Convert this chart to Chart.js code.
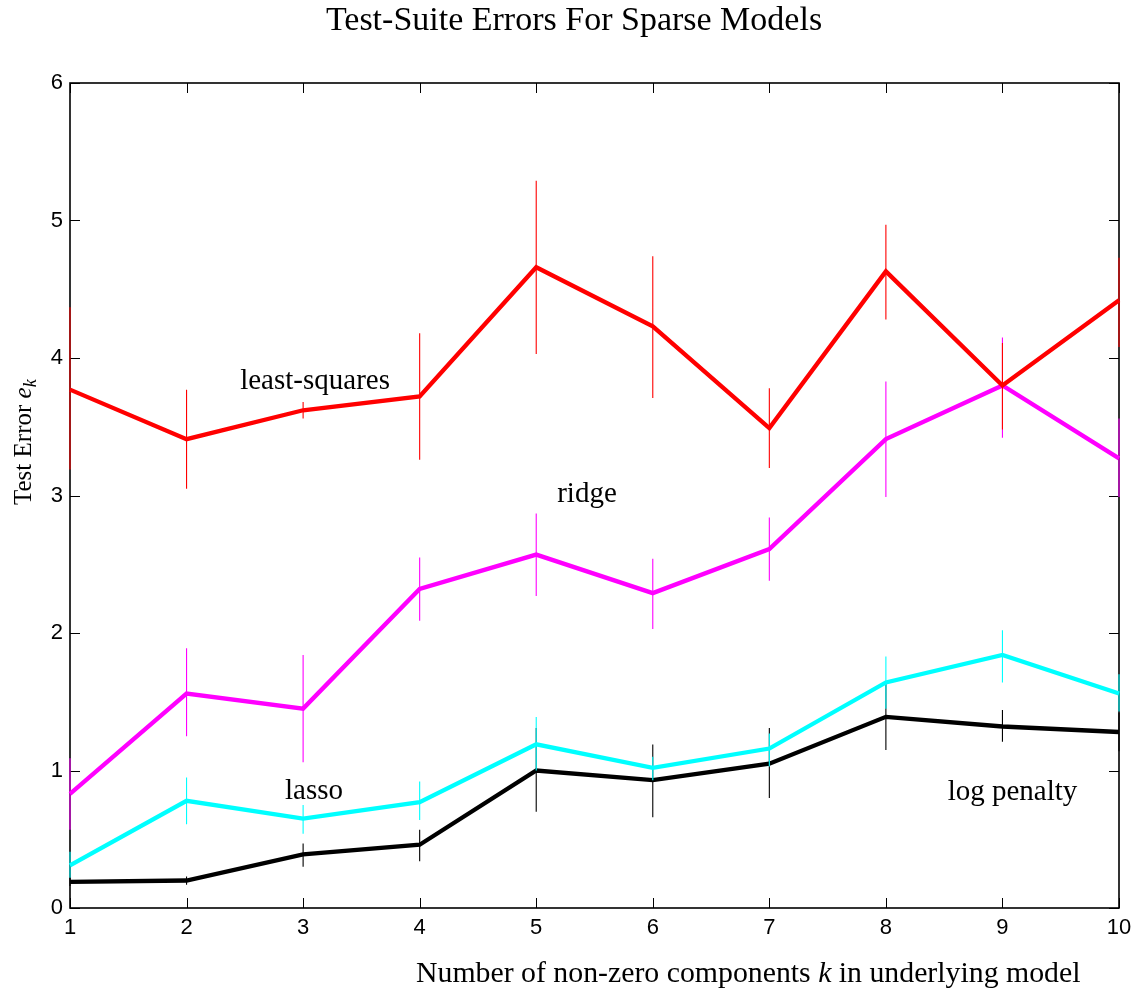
<!DOCTYPE html>
<html>
<head>
<meta charset="utf-8">
<title>Test-Suite Errors For Sparse Models</title>
<script src="https://cdn.jsdelivr.net/npm/chart.js@4.4.1/dist/chart.umd.min.js"></script>
<style>
  html, body { margin: 0; padding: 0; background: #fff; }
  #wrap { width: 1143px; height: 994px; }
</style>
</head>
<body>
<div id="wrap"><canvas id="chart" width="1143" height="994"></canvas></div>
<script>
// Number of non-zero components k
const ks = [1, 2, 3, 4, 5, 6, 7, 8, 9, 10];

// least-squares: mean test error and error-bar ends
const lsMean = [3.77, 3.41, 3.62, 3.72, 4.66, 4.23, 3.49, 4.63, 3.80, 4.42];
const lsLow  = [3.19, 3.05, 3.56, 3.26, 4.03, 3.71, 3.20, 4.28, 3.48, 4.08];
const lsHigh = [4.37, 3.77, 3.68, 4.18, 5.29, 4.74, 3.78, 4.97, 4.11, 4.73];

// ridge
const ridgeMean = [0.83, 1.56, 1.45, 2.32, 2.57, 2.29, 2.61, 3.41, 3.80, 3.27];
const ridgeLow  = [0.57, 1.25, 1.06, 2.09, 2.27, 2.03, 2.38, 2.99, 3.42, 2.99];
const ridgeHigh = [1.09, 1.89, 1.84, 2.55, 2.87, 2.54, 2.84, 3.83, 4.15, 3.56];

// lasso
const lassoMean = [0.31, 0.78, 0.65, 0.77, 1.19, 1.02, 1.16, 1.64, 1.84, 1.56];
const lassoLow  = [0.22, 0.61, 0.54, 0.64, 1.00, 0.93, 1.03, 1.45, 1.64, 1.43];
const lassoHigh = [0.41, 0.95, 0.75, 0.92, 1.39, 1.10, 1.27, 1.83, 2.02, 1.70];

// log penalty
const logMean = [0.19, 0.20, 0.39, 0.46, 1.00, 0.93, 1.05, 1.39, 1.32, 1.28];
const logLow  = [0.16, 0.17, 0.30, 0.34, 0.70, 0.66, 0.80, 1.15, 1.21, 1.14];
const logHigh = [0.22, 0.23, 0.47, 0.57, 1.31, 1.19, 1.31, 1.63, 1.44, 1.42];

// axis ticks
const xTicks = [1, 2, 3, 4, 5, 6, 7, 8, 9, 10];
const yTicks = [0, 1, 2, 3, 4, 5, 6];

// in-plot series names, anchored in data coordinates (left edge, baseline)
const seriesNames = ['least-squares', 'ridge', 'lasso', 'log penalty'];
const nameX = [2.46, 5.18, 2.845, 8.53];
const nameY = [3.775, 2.953, 0.793, 0.785];

const SERIF = '"Liberation Serif", "Times New Roman", serif';
const SANS = '"Liberation Sans", Arial, Helvetica, sans-serif';

function pts(ys) { return ks.map((k, i) => ({ x: k, y: ys[i] })); }

const series = [
  { label: 'least-squares', mean: lsMean,    low: lsLow,    high: lsHigh,    color: '#ff0000', order: 0 },
  { label: 'ridge',         mean: ridgeMean, low: ridgeLow, high: ridgeHigh, color: '#ff00ff', order: 1 },
  { label: 'lasso',         mean: lassoMean, low: lassoLow, high: lassoHigh, color: '#00ffff', order: 2 },
  { label: 'log penalty',   mean: logMean,   low: logLow,   high: logHigh,   color: '#000000', order: 3 }
];

// Boxed axes with inward ticks on all four sides
const framePlugin = {
  id: 'frame',
  beforeDatasetsDraw(chart) {
    const { ctx, chartArea: a, scales: { x, y } } = chart;
    ctx.save();
    ctx.strokeStyle = '#000';
    ctx.lineWidth = 1;
    const tl = 10;
    ctx.beginPath();
    xTicks.forEach(v => {
      const px = Math.round(x.getPixelForValue(v)) + 0.5;
      ctx.moveTo(px, a.bottom); ctx.lineTo(px, a.bottom - tl);
      ctx.moveTo(px, a.top);    ctx.lineTo(px, a.top + tl);
    });
    yTicks.forEach(v => {
      const py = Math.round(y.getPixelForValue(v)) + 0.5;
      ctx.moveTo(a.left, py);  ctx.lineTo(a.left + tl, py);
      ctx.moveTo(a.right, py); ctx.lineTo(a.right - tl, py);
    });
    ctx.stroke();
    ctx.lineWidth = 1.6;
    ctx.strokeRect(a.left, a.top, a.right - a.left, a.bottom - a.top);
    ctx.restore();
  }
};

// Vertical error bars drawn with each series
const errorBarPlugin = {
  id: 'errorBars',
  afterDatasetDraw(chart, args) {
    const s = series[args.index];
    const { ctx, scales: { x, y } } = chart;
    ctx.save();
    ctx.strokeStyle = s.color;
    ctx.lineWidth = 1.1;
    ctx.beginPath();
    ks.forEach((k, i) => {
      const px = x.getPixelForValue(k);
      ctx.moveTo(px, y.getPixelForValue(s.low[i]));
      ctx.lineTo(px, y.getPixelForValue(s.high[i]));
    });
    ctx.stroke();
    ctx.restore();
  }
};

function drawRuns(ctx, runs, x0, y0) {
  let x = x0;
  runs.forEach(r => {
    ctx.font = r.font;
    ctx.fillText(r.text, x, y0 + (r.dy || 0));
    x += ctx.measureText(r.text).width;
  });
}

// Title, axis titles and series names
const textPlugin = {
  id: 'texts',
  afterDraw(chart) {
    const { ctx, scales: { x, y } } = chart;
    ctx.save();
    ctx.fillStyle = '#000';
    ctx.textBaseline = 'alphabetic';

    ctx.textAlign = 'center';
    ctx.font = '34px ' + SERIF;
    ctx.fillText('Test-Suite Errors For Sparse Models', 574, 30);

    ctx.textAlign = 'left';
    drawRuns(ctx, [
      { text: 'Number of non-zero components ', font: '29.8px ' + SERIF },
      { text: 'k', font: 'italic 29.8px ' + SERIF },
      { text: ' in underlying model', font: '29.8px ' + SERIF }
    ], 416, 982);

    ctx.save();
    ctx.translate(31, 505);
    ctx.rotate(-Math.PI / 2);
    drawRuns(ctx, [
      { text: 'Test Error ', font: '25px ' + SERIF },
      { text: 'e', font: 'italic 25px ' + SERIF },
      { text: 'k', font: 'italic 18px ' + SERIF, dy: 5 }
    ], 0, 0);
    ctx.restore();

    ctx.font = '29px ' + SERIF;
    seriesNames.forEach((name, i) => {
      ctx.fillText(name, x.getPixelForValue(nameX[i]), y.getPixelForValue(nameY[i]));
    });
    ctx.restore();
  }
};

new Chart(document.getElementById('chart'), {
  type: 'line',
  data: {
    datasets: series.map(s => ({
      label: s.label,
      data: pts(s.mean),
      borderColor: s.color,
      backgroundColor: s.color,
      borderWidth: 4.3,
      pointRadius: 0,
      tension: 0,
      fill: false,
      clip: false,
      order: s.order
    }))
  },
  options: {
    responsive: false,
    devicePixelRatio: 1,
    animation: false,
    layout: { padding: { top: 83, right: 24, left: 0, bottom: 0 } },
    plugins: {
      legend: { display: false },
      title: { display: false },
      tooltip: { enabled: false }
    },
    scales: {
      x: {
        type: 'linear', min: 1, max: 10,
        grid: { display: false, drawTicks: false },
        border: { display: false },
        ticks: {
          stepSize: 1, autoSkip: false, maxRotation: 0, padding: 7,
          color: '#000', font: { family: SANS, size: 22 },
          callback: v => String(v)
        },
        afterFit(s) { s.height = 86; }
      },
      y: {
        min: 0, max: 6,
        grid: { display: false, drawTicks: false },
        border: { display: false },
        ticks: {
          stepSize: 1, padding: 7,
          color: '#000', font: { family: SANS, size: 22 },
          callback: v => String(v)
        },
        afterFit(s) { s.width = 70; }
      }
    }
  },
  plugins: [framePlugin, errorBarPlugin, textPlugin]
});
</script>
</body>
</html>
